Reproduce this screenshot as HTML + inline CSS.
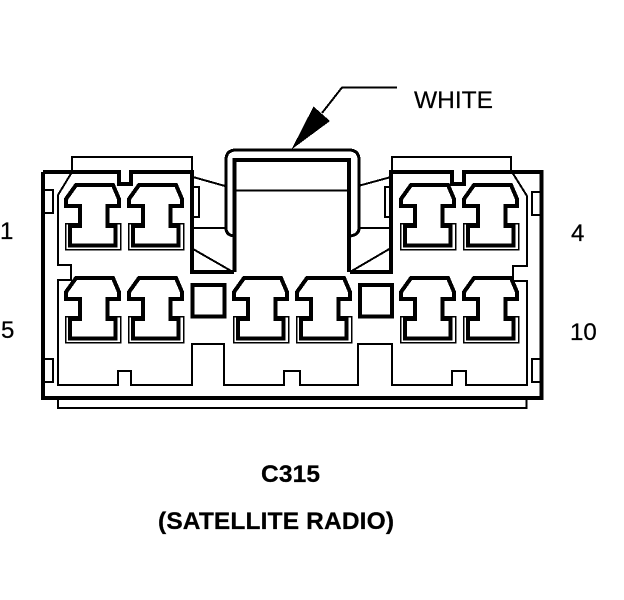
<!DOCTYPE html>
<html><head><meta charset="utf-8"><style>
html,body{margin:0;padding:0;background:#fff;width:624px;height:600px;overflow:hidden}
svg{display:block}
text{font-family:"Liberation Sans",sans-serif;fill:#000;stroke:#000;stroke-width:.25}
</style></head><body>
<svg width="624" height="600" viewBox="0 0 624 600" xmlns="http://www.w3.org/2000/svg" shape-rendering="crispEdges">
<defs>
<g id="t">
<path d="M76 185H113L119 199V206H107.500V226H115.500V245.500H70V226H80V206H66V199Z" fill="none" stroke="#000" stroke-width="4" stroke-linejoin="miter"/>
<path d="M80 223.500H65.500V249.500H120.500V223.500H107.500" fill="none" stroke="#000" stroke-width="1.500"/>
</g>
</defs>
<g fill="none" stroke="#000">
<!-- outer housing -->
<path stroke-width="4" d="M43 172H119V184H131V172H192V272H234M350 272H391V172H452V184H464V172H541.500V398H43V172"/>
<!-- tabs -->
<path stroke-width="2" d="M72 172V157H192V172M392 172V157H511V172"/>
<!-- inner thin outline -->
<path stroke-width="2" d="M72 172L58 195V265H71V280H58V385H118V371H131V385H192V344H224V385H284V371H300V385H358V344H392V385H452V371H466V385H527V281H513V266H527V196L512 172"/>
<!-- base plate -->
<path stroke-width="2" d="M58 399V408H526.500V399"/>
<!-- side windows -->
<path stroke-width="2" d="M45 190H53V213H45M45 359H53V382H45M541 192H532V215H541M541 359H532V382H541"/>
<path stroke-width="2" d="M193 187H199V217H193M391 187H385V217H391"/>
<!-- squares -->
<rect x="192.500" y="285" width="32" height="31.500" stroke-width="4"/>
<rect x="360" y="285" width="32" height="31.500" stroke-width="4"/>
<!-- latch -->
<path stroke-width="4" d="M234.500 272V160H349V272"/>
<path stroke-width="2" d="M235 190.500H349"/>
<path stroke-width="3" d="M234 236Q226 235 226 228V160Q226 150 236 150H349Q359 150 359 160V228Q359 235 350 236"/>
<path stroke-width="2" d="M193 177L225 186M358 186L391 177M193 228H226M358 228H391M193 249L233 272M350 272L391 248"/>
<!-- leader -->
<path stroke-width="2" d="M322 113L342 87.500H397"/>
</g>
<path d="M291.500 149.500L313.500 106.500L330 121Z" fill="#000"/>
<use href="#t"/>
<use href="#t" x="63"/>
<use href="#t" x="335"/>
<use href="#t" x="398"/>
<use href="#t" y="93"/>
<use href="#t" x="63" y="93"/>
<use href="#t" x="168" y="93"/>
<use href="#t" x="231" y="93"/>
<use href="#t" x="335" y="93"/>
<use href="#t" x="398" y="93"/>
<text x="414" y="108" font-size="24.500">WHITE</text>
<text x="0" y="239" font-size="24">1</text>
<text x="571" y="241" font-size="24">4</text>
<text x="1" y="338" font-size="24">5</text>
<text x="570" y="340" font-size="24">10</text>
<text x="261" y="482" font-size="24.500" font-weight="bold" textLength="59" lengthAdjust="spacing">C315</text>
<text x="158" y="529" font-size="24.500" font-weight="bold" textLength="236" lengthAdjust="spacing">(SATELLITE RADIO)</text>
</svg>
</body></html>
